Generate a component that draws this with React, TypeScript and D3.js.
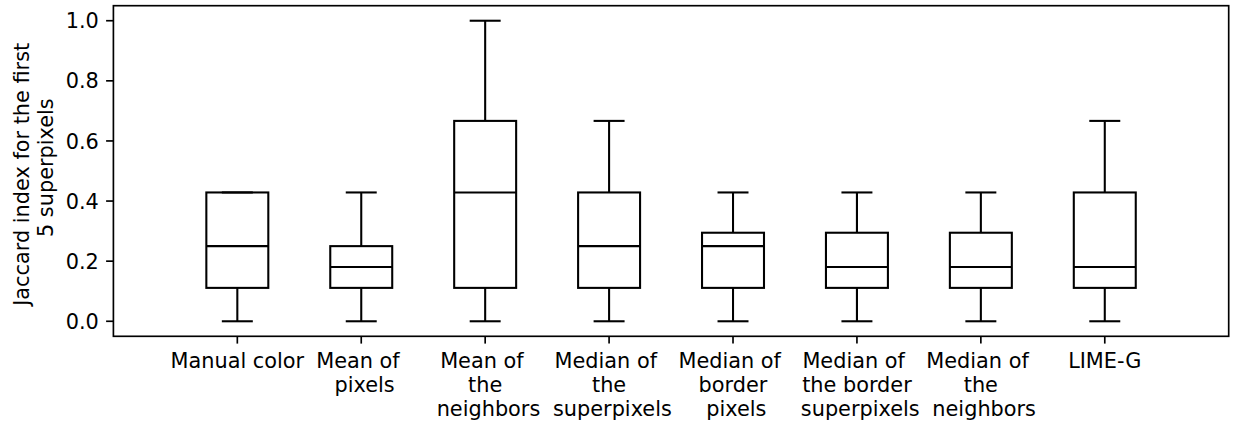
import React from "react";
import * as d3 from "d3";

// Jaccard index statistics per colouring method (five-number summaries)
const categories: string[] = [
  "Manual color",
  "Mean of \n pixels",
  "Mean of \n the \n neighbors",
  "Median of \n the \n superpixels",
  "Median of \n border \n pixels",
  "Median of \n the border \n superpixels",
  "Median of \n the \n neighbors",
  "LIME-G",
];
const whiskerLow: number[] = [0, 0, 0, 0, 0, 0, 0, 0];
const q1: number[] = [0.1111, 0.1111, 0.1111, 0.1111, 0.1111, 0.1111, 0.1111, 0.1111];
const median: number[] = [0.25, 0.1806, 0.4286, 0.25, 0.25, 0.1806, 0.1806, 0.1806];
const q3: number[] = [0.4286, 0.25, 0.6667, 0.4286, 0.2946, 0.2946, 0.2946, 0.4286];
const whiskerHigh: number[] = [0.4286, 0.4286, 1.0, 0.6667, 0.4286, 0.4286, 0.4286, 0.6667];
const yTicks: number[] = [0, 0.2, 0.4, 0.6, 0.8, 1.0];
const yLabelLines: string[] = ["Jaccard index for the first ", " 5 superpixels"];

const W = 1233;
const H = 422;
const left = 113.4;
const right = 1228.7;
const top = 5.7;
const bottom = 336.3;
const fs = 20.83;
const lw = 2.08;
const spineW = 1.67;
const tickLen = 7.3;
const font = "'DejaVu Sans', sans-serif";

export default function App() {
  const x = d3.scaleLinear().domain([0, 9]).range([left, right]);
  const y = d3.scaleLinear().domain([-0.05, 1.05]).range([bottom, top]);
  const boxHalf = (x(0.25) - x(0));
  const capHalf = (x(0.125) - x(0));
  const lineH = 24;

  return (
    <svg
      width={W}
      height={H}
      style={{ position: "absolute", left: 0, top: 0, background: "#fff" }}
      fontFamily={font}
    >
      <rect x={0} y={0} width={W} height={H} fill="#fff" />
      {categories.map((c, i) => {
        const cx = x(i + 1);
        return (
          <g key={i} stroke="#000" strokeWidth={lw} fill="none">
            <line x1={cx} x2={cx} y1={y(whiskerLow[i])} y2={y(q1[i])} />
            <line x1={cx} x2={cx} y1={y(q3[i])} y2={y(whiskerHigh[i])} />
            <line x1={cx - capHalf} x2={cx + capHalf} y1={y(whiskerLow[i])} y2={y(whiskerLow[i])} />
            <line x1={cx - capHalf} x2={cx + capHalf} y1={y(whiskerHigh[i])} y2={y(whiskerHigh[i])} />
            <rect
              x={cx - boxHalf}
              y={y(q3[i])}
              width={boxHalf * 2}
              height={y(q1[i]) - y(q3[i])}
              strokeLinejoin="miter"
            />
            <line x1={cx - boxHalf} x2={cx + boxHalf} y1={y(median[i])} y2={y(median[i])} />
          </g>
        );
      })}
      {/* axes frame */}
      <rect
        x={left}
        y={top}
        width={right - left}
        height={bottom - top}
        fill="none"
        stroke="#000"
        strokeWidth={spineW}
      />
      {/* y ticks */}
      {yTicks.map((t) => (
        <g key={t}>
          <line x1={left - tickLen} x2={left} y1={y(t)} y2={y(t)} stroke="#000" strokeWidth={spineW} />
          <text x={left - tickLen - 7.3} y={y(t) + 7.6} textAnchor="end" fontSize={fs} fill="#000">
            {d3.format(".1f")(t)}
          </text>
        </g>
      ))}
      {/* x ticks and multi-line labels */}
      {categories.map((c, i) => {
        const cx = x(i + 1);
        return (
          <g key={"xt" + i}>
            <line x1={cx} x2={cx} y1={bottom} y2={bottom + tickLen} stroke="#000" strokeWidth={spineW} />
            {c.split("\n").map((ln, j) => (
              <text
                key={j}
                x={cx}
                y={bottom + 32 + j * lineH}
                textAnchor="middle"
                fontSize={fs}
                fill="#000"
                style={{ whiteSpace: "pre" }}
              >
                {ln}
              </text>
            ))}
          </g>
        );
      })}
      {/* y axis label */}
      {yLabelLines.map((ln, j) => {
        const bx = 29.3 + j * 23.4;
        const cy = (top + bottom) / 2;
        return (
          <text
            key={"yl" + j}
            transform={`translate(${bx},${cy}) rotate(-90)`}
            textAnchor="middle"
            fontSize={fs}
            fill="#000"
            style={{ whiteSpace: "pre" }}
          >
            {ln}
          </text>
        );
      })}
    </svg>
  );
}
